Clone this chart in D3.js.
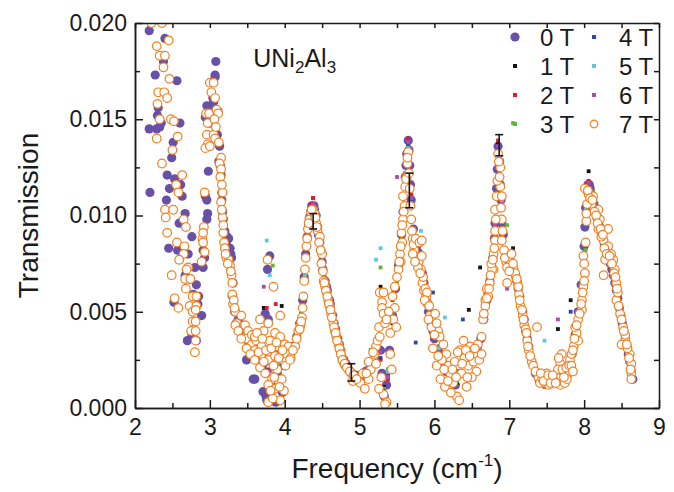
<!DOCTYPE html>
<html>
<head>
<meta charset="utf-8">
<script src="https://cdnjs.cloudflare.com/ajax/libs/d3/7.8.5/d3.min.js"></script>
<style>
  body { margin: 0; background: #fff; }
  text { font-family: 'Liberation Sans', Arial, sans-serif; fill: #1a1a1a; }
  .axis path, .axis line { stroke: #1a1a1a; stroke-width: 1.5; }
</style>
</head>
<body>
<div id="chart"></div>
<script>
// transmission values are in units of 1e-3 (axis shows 0.000 ... 0.020)

// 0 T, [frequency cm-1, transmission]
const points0T = [
  [2.19,19.6],[2.40,19.2],[2.38,18.0],[2.27,17.3],[2.56,17.0],[2.31,15.6],[2.29,14.5],[2.19,14.5],
  [2.33,14.6],[2.60,14.8],[2.51,13.8],[2.49,13.0],[2.43,12.1],[2.20,11.2],[2.53,11.9],[2.61,11.6],
  [2.42,10.8],[2.67,10.1],[2.59,9.6],[2.45,8.3],[2.57,8.2],[2.76,8.9],[2.71,8.0],[2.80,7.3],
  [2.67,6.9],[2.73,6.7],[2.52,5.5],[2.82,6.4],[2.85,5.8],[2.89,4.8],[2.70,3.5],[2.82,3.5],
  [2.76,3.8],[2.80,5.2],[2.84,5.4],[2.30,15.2],[2.35,14.8],[2.46,11.4],[2.63,11.0],[2.78,5.9],
  [2.96,9.8],[2.97,10.1],[2.96,10.8],[2.94,11.0],[2.98,12.3],[2.91,8.2],[2.93,7.8],[2.91,7.3],
  [2.96,15.7],[3.02,15.5],[2.99,14.9],[3.07,17.3],[3.08,18.0],[3.04,16.1],[3.11,15.4],[3.10,14.2],
  [3.13,13.6],[3.15,12.1],[3.16,11.2],[3.16,10.8],[3.17,10.2],[3.20,9.2],[3.25,8.8],[3.27,8.3],
  [3.29,7.8],[3.30,5.8],[3.33,5.0],[3.38,4.6],[3.45,4.3],[3.49,2.5],[3.58,1.5],[3.71,0.85],
  [3.05,15.9],[3.01,15.0],[3.12,12.8],[3.22,8.6],[3.31,6.5],[3.35,4.4],[3.40,4.0],[3.52,3.4],
  [3.55,2.9],[3.63,2.6],[2.94,15.1],[3.00,14.8],[3.07,17.2],
  [3.14,12.6],[3.18,9.8],[3.23,8.9],[3.28,8.0],
  [3.80,7.9],[3.77,7.2],[3.78,4.6],[3.60,1.5],[3.74,4.9],[3.66,3.2],[3.70,2.2],[3.76,0.4],
  [3.82,1.2],[3.86,3.0],[3.90,1.8],[3.95,2.6],[4.00,2.2],[4.04,3.0],[4.08,2.8],[3.88,0.3],
  [3.97,0.8],[3.75,0.6],
  [4.12,3.2],[4.16,3.7],[4.20,4.4],[4.24,5.6],[4.26,6.8],[4.28,8.0],[4.30,8.9],[4.33,9.9],
  [4.36,10.5],[4.39,10.5],[4.42,10.0],[4.45,9.0],[4.48,8.2],[4.51,7.2],[4.54,6.6],[4.57,6.1],
  [4.61,5.4],[4.64,4.8],[4.68,4.1],[4.71,3.6],[4.75,3.0],[4.79,2.5],[4.84,2.1],[4.90,1.8],
  [4.96,1.7],[5.02,1.6],[5.08,1.9],
  [4.32,9.5],[4.40,10.3],[4.44,9.4],[4.47,8.6],[4.50,7.6],[4.56,6.3],[4.60,5.6],[4.66,4.4],
  [4.73,3.3],[4.82,2.3],
  [5.14,2.1],[5.20,2.6],[5.24,3.1],[5.28,3.0],[5.30,1.8],[5.33,0.6],[5.36,1.2],[5.40,3.0],
  [5.44,4.8],[5.48,6.2],
  [5.52,7.4],[5.55,8.4],[5.58,10.2],[5.61,12.0],[5.63,13.2],[5.65,13.9],[5.67,12.6],[5.69,10.8],
  [5.72,9.3],[5.76,8.4],[5.80,7.8],[5.84,7.0],[5.88,6.0],[5.92,5.0],[5.96,4.3],[6.00,3.6],
  [6.05,3.0],[6.10,2.4],[6.16,1.9],[6.22,1.4],[6.28,1.2],[6.34,1.8],[6.40,2.4],[6.46,2.6],
  [6.52,2.6],[6.57,3.0],[6.62,3.6],
  [5.56,9.0],[5.62,12.6],[5.66,13.4],[5.68,11.6],[5.74,8.8],[5.78,8.1],[5.86,6.5],[5.90,5.5],
  [5.98,4.0],
  [6.66,4.6],[6.70,5.6],[6.74,6.6],[6.78,7.8],[6.81,9.6],[6.83,11.4],[6.85,13.6],[6.87,12.8],
  [6.89,10.8],[6.92,9.0],[6.95,8.0],[7.00,7.6],[7.05,7.3],[7.10,6.6],[7.14,5.8],[7.18,5.0],
  [7.22,4.0],[7.26,3.2],[7.30,2.4],[7.35,1.8],[7.40,1.4],[7.46,1.3],[7.52,1.4],[7.58,1.5],
  [7.64,1.8],[7.70,2.2],[7.75,1.6],[7.80,2.0],
  [6.80,8.8],[6.84,12.4],[6.88,11.6],[6.90,9.6],[6.98,7.8],[7.03,7.5],[7.08,6.9],[7.12,6.2],
  [7.20,4.6],[7.24,3.6],
  [7.84,2.8],[7.88,3.8],[7.92,5.0],[7.96,6.4],[8.00,8.4],[8.02,10.4],[8.05,11.6],[8.08,11.4],
  [8.11,11.0],[8.15,10.2],[8.19,9.6],[8.23,9.1],[8.27,8.5],[8.31,8.0],[8.35,7.5],[8.39,6.9],
  [8.43,6.1],[8.47,5.2],[8.51,4.4],[8.55,3.6],[8.59,2.8],[8.63,1.9],[8.65,1.5],
  [8.01,9.4],[8.04,11.3],[8.07,11.6],[8.13,10.6],[8.17,9.9],[8.21,9.4],[8.25,8.8],[8.29,8.3],
  [8.33,7.8],[8.37,7.2],[8.41,6.5],[8.45,5.7],[8.49,4.8],[8.53,4.0],[8.57,3.2],[8.61,2.4]
]

// 7 T, [frequency cm-1, transmission]
const points7T = [
  [2.22,20.0],[2.36,20.0],[2.45,19.1],[2.29,18.8],[2.33,18.3],[2.40,18.3],[2.38,17.7],[2.46,17.1],
  [2.31,16.4],[2.39,16.4],[2.43,16.1],[2.30,15.8],[2.33,15.0],[2.48,15.0],[2.29,14.0],[2.57,14.1],
  [2.50,13.4],[2.36,12.7],[2.63,12.1],[2.55,11.6],[2.58,11.2],[2.40,10.3],[2.51,10.3],[2.41,9.9],
  [2.65,9.8],[2.43,9.1],[2.68,9.4],[2.56,8.6],[2.66,8.4],[2.65,8.0],[2.59,7.7],[2.71,7.3],
  [2.69,7.2],[2.49,6.9],[2.67,6.7],[2.74,6.7],[2.68,6.2],[2.53,5.7],[2.58,5.2],[2.77,5.8],
  [2.82,5.8],[2.73,5.3],[2.82,5.3],[2.77,5.0],[2.81,5.1],[2.77,4.5],[2.81,4.5],[2.75,4.0],
  [2.81,4.0],[2.81,3.5],[2.80,2.9],[2.52,14.9],
  [2.93,11.2],[2.92,9.4],[2.90,8.8],[2.91,8.6],[2.93,8.1],[2.89,7.6],[2.95,15.3],[2.99,15.3],
  [2.97,14.8],[2.96,14.2],[2.97,13.7],[3.00,16.9],[3.05,16.9],[3.02,16.4],[3.07,16.1],[3.09,15.5],
  [3.11,15.3],[3.05,14.2],[3.07,14.0],[3.15,13.0],[3.13,12.7],[3.15,12.4],[3.17,11.2],[3.15,10.7],
  [3.17,9.9],[3.18,9.1],[3.19,8.6],[3.20,8.3],[3.22,7.8],[3.25,7.7],[3.27,7.4],[3.29,6.9],
  [3.30,6.5],[3.30,5.9],[3.31,5.4],[3.34,5.0],[3.36,4.4],[3.42,4.8],[3.47,4.3],[3.51,4.0],
  [3.49,3.6],[3.56,3.3],[3.60,3.0],[3.69,2.8],[2.94,13.5],[3.00,13.6],[2.91,9.1],
  [3.06,15.0],[3.08,14.6],[3.12,13.8],[3.14,12.0],[3.16,11.6],[3.16,10.3],[3.18,9.5],[3.21,8.0],
  [3.24,7.5],[3.28,7.1],[3.32,5.6],[3.33,5.2],
  [3.34,4.3],[3.38,4.0],[3.42,3.6],[3.49,3.1],[3.54,2.8],[3.60,2.5],[3.56,3.8],[3.62,3.5],[3.67,2.1],
  [3.67,4.6],[3.78,4.4],[3.60,3.7],[3.69,3.2],[3.80,3.5],[3.87,3.9],[3.94,3.7],[3.91,3.2],
  [4.00,3.3],[4.05,3.2],[3.78,2.5],[3.87,2.7],[3.74,1.8],[3.98,2.5],[3.83,1.5],[3.96,1.5],
  [3.78,1.2],[3.94,0.4],[3.87,1.0],[4.03,2.8],[3.77,7.7],[3.85,6.3],[3.94,4.8],[3.78,0.3],
  [3.72,2.4],[3.65,2.9],[3.90,2.0],[4.08,2.6],[3.84,0.5],[3.99,0.9],[3.72,4.0],[3.63,3.9],
  [3.70,3.6],[3.75,3.0],[3.82,3.1],[3.85,2.2],[3.89,3.4],[3.92,2.6],[3.97,3.0],[4.01,2.2],
  [3.81,0.9],[3.86,1.6],[3.93,1.1],
  [4.07,2.5],[4.14,3.2],[4.18,4.0],[4.23,4.7],[4.25,5.8],[4.27,7.2],[4.29,8.4],[4.31,9.3],
  [4.33,9.8],[4.35,10.2],[4.38,10.3],[4.40,10.1],[4.42,9.6],[4.44,9.2],[4.47,8.9],[4.49,7.5],
  [4.50,8.0],[4.52,6.6],[4.54,6.3],[4.56,6.0],[4.58,5.6],[4.60,5.3],[4.62,4.9],[4.65,4.4],
  [4.67,4.0],[4.69,3.7],[4.72,3.3],[4.74,3.0],[4.76,2.7],[4.78,2.4],[4.81,2.2],[4.85,2.0],
  [4.89,1.8],[4.94,1.6],[4.98,1.5],[5.01,1.3],[5.07,1.0],[5.12,1.5],[5.04,1.8],[4.91,1.4],
  [4.26,6.6],[4.28,7.8],[4.24,5.2],[4.21,4.3],[4.16,3.6],[4.11,3.0],
  [4.20,4.1],[4.22,4.5],[4.30,8.8],[4.32,9.6],[4.36,10.3],[4.41,9.9],[4.43,9.4],[4.46,8.6],
  [4.48,8.2],[4.51,7.1],[4.53,6.5],[4.55,6.1],[4.57,5.8],[4.59,5.4],[4.61,5.1],[4.63,4.7],
  [4.66,4.2],[4.68,3.9],[4.70,3.5],[4.73,3.1],[4.75,2.8],[4.77,2.5],[4.80,2.3],[4.83,2.1],
  [4.87,1.9],[4.92,1.7],[4.96,1.5],
  [5.15,2.0],[5.18,2.5],[5.20,2.8],[5.22,3.2],[5.24,3.5],[5.26,4.2],[5.27,6.0],[5.30,5.5],
  [5.32,6.0],[5.30,5.2],[5.32,4.9],[5.34,4.4],[5.27,3.7],[5.18,2.9],[5.29,1.6],[5.32,0.7],
  [5.36,0.3],[5.41,3.9],[5.41,2.8],[5.43,2.0],[5.45,4.6],[5.47,5.2],[5.49,4.2],[5.12,2.4],
  [5.09,1.8],[5.22,2.3],[5.26,1.0],[5.34,0.2],
  [5.47,6.3],[5.52,7.2],[5.54,8.0],[5.56,9.1],[5.58,9.8],[5.58,11.0],[5.61,11.5],[5.64,12.7],
  [5.65,13.3],[5.63,12.0],[5.60,10.5],[5.57,8.6],[5.55,7.6],[5.50,6.8],[5.44,5.8],[5.39,5.0],
  [5.36,4.6],
  [5.53,7.6],[5.55,8.4],[5.57,9.5],[5.59,10.2],[5.62,11.9],[5.64,13.0],[5.67,11.4],[5.69,9.8],
  [5.71,8.8],[5.73,8.2],[5.77,7.8],[5.79,7.6],[5.82,7.2],[5.84,6.5],[5.86,6.1],[5.89,5.8],
  [5.91,5.4],[5.94,4.8],[5.97,4.5],[6.05,4.0],
  [5.66,12.2],[5.68,10.5],[5.70,9.2],[5.72,8.5],[5.75,8.8],[5.80,8.6],[5.83,8.7],[5.83,7.9],
  [5.78,7.3],[5.85,6.8],[5.88,6.2],[5.90,6.0],[5.87,5.6],[5.93,5.3],[5.96,4.2],[6.01,4.9],
  [6.03,4.4],[6.07,3.7],[5.98,3.1],[6.16,2.8],[6.03,2.2],[6.21,1.8],[6.25,1.3],[6.14,1.1],
  [6.30,0.6],[6.34,3.0],[6.39,3.5],[6.48,3.2],[6.56,2.8],[6.45,2.2],[6.56,1.9],[6.43,1.1],
  [6.63,3.7],[6.65,4.6],[6.68,5.6],[6.79,7.2],[6.10,2.5],[6.12,3.3],[6.19,2.2],[6.27,2.4],
  [6.36,1.8],[6.40,2.6],[6.52,2.4],[6.58,3.3],[6.08,1.5],[6.22,0.8],[6.33,0.4],[5.71,8.0],
  [5.74,7.6],[5.81,7.0],[5.92,4.6],[6.00,3.8],
  [6.05,2.7],[6.13,2.0],[6.18,1.4],[6.24,2.0],[6.29,1.6],[6.31,2.9],[6.37,2.3],[6.42,3.0],
  [6.47,2.7],[6.50,1.6],[6.54,3.1],[6.60,2.5],[6.44,1.6],
  [6.63,2.8],[6.68,5.3],[6.72,5.8],[6.74,6.5],[6.77,7.2],[6.79,8.0],[6.81,8.7],[6.81,9.2],
  [6.81,10.3],[6.83,11.0],[6.88,11.5],[6.88,12.5],[6.85,13.2],[6.90,11.0],[6.90,9.8],[6.90,8.7],
  [6.70,6.2],[6.66,4.9],
  [6.70,5.7],[6.73,6.2],[6.75,6.9],[6.76,7.5],[6.78,7.7],[6.80,8.3],[6.82,9.8],[6.84,11.8],
  [6.86,12.8],[6.87,12.0],[6.89,10.4],[6.91,9.2],[6.93,8.2],[6.96,7.6],[6.99,7.7],[7.02,7.6],
  [7.06,7.2],[7.09,6.8],[7.11,6.5],[7.13,5.9],[7.15,5.3],[7.18,4.8],[7.20,4.3],[7.22,4.1],
  [7.24,3.5],[7.26,3.0],[7.30,2.4],
  [6.94,7.8],[7.03,8.0],[6.97,7.3],[7.05,7.5],[7.08,7.0],[6.97,6.5],[7.12,6.3],[7.14,5.6],
  [7.17,5.1],[7.19,4.6],[7.23,3.9],[7.25,3.2],[7.28,2.7],[7.32,2.2],[7.37,4.2],[7.39,1.6],
  [7.41,1.3],[7.50,1.8],[7.48,1.3],[7.57,1.5],[7.63,1.6],[7.68,2.3],[7.70,2.8],[7.68,1.2],
  [7.79,1.8],[7.81,2.5],[7.86,3.2],[7.90,3.9],[7.92,4.6],[7.00,7.1],[7.10,6.7],[7.44,1.5],
  [7.53,1.2],[7.60,1.4],[7.65,2.0],[7.74,1.3],[7.77,1.5],[7.35,1.9],[7.71,2.0],[7.83,2.8],
  [7.42,1.8],[7.46,1.4],[7.52,1.7],[7.55,1.3],[7.58,1.7],[7.62,1.3],[7.66,2.6],[7.73,1.6],
  [7.76,2.1],[7.80,2.2],
  [7.83,2.2],[7.85,1.9],[7.85,3.0],[7.88,4.2],[7.92,3.5],[7.97,5.1],[7.97,5.6],[7.99,6.3],
  [8.01,7.0],[7.99,7.9],[8.03,9.7],[8.03,10.1],[8.01,11.4],[8.06,11.1],[8.12,11.0],[8.10,10.6],
  [8.19,10.3],[8.21,9.8],[8.19,9.3],[8.32,9.3],[8.26,8.7],[8.32,8.4],[8.28,7.7],[8.39,7.7],
  [8.26,6.9],[8.41,7.2],[8.43,6.5],[8.43,5.6],[8.48,4.9],[8.52,4.2],[8.55,3.5],[8.61,2.8],
  [8.63,2.3],[8.63,1.8],[8.63,1.5],[8.50,3.3],[8.55,3.8],[8.14,10.2],[8.23,8.9],[8.36,8.0],
  [8.45,6.0],[8.58,3.1],
  [7.87,3.6],[7.90,4.3],[7.94,4.9],[7.96,5.4],[7.98,6.0],[8.00,6.6],[8.00,7.5],[8.02,8.6],
  [8.04,10.6],[8.05,11.3],[8.08,10.9],[8.11,10.8],[8.16,10.0],[8.18,9.6],[8.22,9.3],[8.25,9.0],
  [8.27,8.3],[8.30,8.0],[8.34,7.9],[8.37,7.5],[8.40,7.0],[8.42,6.8],[8.44,6.2],[8.46,5.3],
  [8.50,4.6],[8.53,4.0],[8.57,3.3],[8.60,2.6],[8.62,2.0]
]

// 1 T ... 6 T share one frequency grid
const freqGrid = [
  3.72,3.76,3.80,3.84,3.88,3.92,3.96,4.00,4.05,4.10,4.16,4.22,4.27,4.31,4.35,4.38,
  4.42,4.47,4.53,4.60,4.68,4.76,4.85,4.95,5.05,5.15,5.22,5.28,5.33,5.38,5.44,5.50,
  5.56,5.61,5.65,5.69,5.75,5.82,5.90,5.98,6.06,6.14,6.22,6.30,6.38,6.46,6.54,6.61,
  6.68,6.75,6.81,6.85,6.90,6.97,7.05,7.13,7.21,7.29,7.38,7.47,7.56,7.65,7.74,7.82,
  7.89,7.96,8.02,8.06,8.12,8.20,8.29,8.38,8.47,8.56,8.63
]
const trans1T = [
  5.2,2.6,1.5,2.8,3.3,2.2,5.3,3.1,2.7,3.3,3.9,4.9,7.0,9.2,10.4,10.9,
  10.1,8.8,6.8,5.5,4.2,3.0,2.2,1.8,1.8,3.0,2.5,6.3,1.1,2.0,4.4,6.6,
  8.9,12.0,13.7,11.0,8.9,7.6,5.8,4.3,3.2,2.4,1.6,1.3,2.7,5.1,2.4,7.3,
  5.4,7.0,9.8,13.8,10.9,8.0,8.3,6.2,4.5,2.8,1.8,1.5,1.7,4.1,1.8,5.6,
  4.0,6.3,10.4,12.3,11.2,9.8,8.5,7.4,5.4,3.6,1.5
]
const trans2T = [
  3.1,5.2,2.0,2.2,5.4,2.9,2.1,2.6,3.2,2.8,3.5,4.5,6.6,9.3,10.6,10.9,
  10.3,8.4,6.4,5.1,3.9,2.7,1.9,1.5,1.4,2.3,3.0,2.5,0.5,1.5,5.6,7.0,
  8.8,12.2,14.0,11.1,8.4,7.2,5.4,3.8,2.8,1.8,1.2,1.9,2.2,2.9,2.8,3.2,
  6.0,6.6,9.2,13.9,10.4,7.6,7.1,5.8,4.1,2.4,1.4,1.1,1.3,1.7,1.4,2.2,
  3.6,5.8,10.0,11.8,10.8,9.4,8.1,7.0,5.0,3.2,1.6
]
const trans3T = [
  2.5,2.4,1.2,7.4,2.7,2.3,2.6,3.2,2.8,3.2,3.9,4.9,7.0,8.8,10.0,10.3,
  9.8,8.8,6.8,5.5,4.2,3.0,2.2,1.4,1.8,2.0,2.6,7.3,1.0,2.0,4.8,6.6,
  8.4,11.6,13.6,10.6,8.8,7.6,5.8,4.2,3.2,2.2,1.6,1.4,2.6,2.4,2.4,3.6,
  5.0,7.0,9.7,13.4,10.8,9.5,14.8,6.2,4.5,2.8,1.8,1.5,1.7,2.1,1.8,2.6,
  4.0,6.2,8.2,11.4,11.2,9.8,8.5,7.4,5.4,3.6,2.0
]
const trans4T = [
  2.6,2.0,1.6,2.6,2.8,2.8,2.2,2.7,3.1,2.9,3.6,4.6,6.7,9.1,10.3,10.4,
  9.9,8.5,6.5,5.2,3.9,2.7,1.9,1.7,1.5,2.2,2.9,2.6,0.6,1.7,4.5,6.9,
  8.7,11.9,13.7,10.7,3.4,7.3,5.5,6.0,2.9,1.9,1.3,1.7,4.6,2.7,2.7,3.3,
  5.1,6.7,9.4,13.5,10.5,7.7,7.2,5.9,4.2,2.5,1.5,1.2,1.4,1.8,1.5,5.0,
  3.7,5.9,10.1,11.5,10.9,9.5,8.2,7.1,5.1,3.3,1.7
]
const trans5T = [
  2.9,8.7,6.9,2.0,3.2,2.4,2.8,3.0,2.9,3.1,3.8,4.8,6.9,8.9,10.1,10.4,
  10.1,8.7,6.7,5.4,4.1,2.9,2.1,1.5,1.7,2.0,7.7,8.3,0.3,1.9,4.7,6.7,
  8.5,11.7,13.5,10.9,8.7,9.2,5.7,4.1,3.1,4.7,1.5,1.5,2.5,2.5,2.5,3.5,
  5.3,6.9,9.6,13.3,10.7,7.9,7.4,6.1,4.4,2.7,1.7,3.5,1.6,2.0,1.7,2.5,
  3.9,6.1,10.3,11.3,11.1,9.7,8.4,7.3,5.3,3.5,1.9
]
const trans6T = [
  6.3,2.3,1.9,2.3,2.9,2.5,2.5,2.8,3.0,2.9,3.6,4.6,6.6,9.0,10.1,10.6,
  9.9,8.5,6.5,5.2,3.9,2.7,1.9,1.6,1.6,2.1,2.7,2.9,0.9,1.6,4.5,12.0,
  9.8,11.9,13.8,10.9,8.5,7.3,5.5,3.9,2.9,2.0,1.3,1.6,2.3,2.6,2.6,3.3,
  5.2,6.8,9.5,13.6,10.6,6.2,7.3,6.0,4.3,2.6,1.6,1.3,1.5,4.6,1.6,2.4,
  3.8,7.9,10.2,11.7,11.0,9.6,8.3,7.2,5.2,3.4,1.8
]

// error bars
const errFreq = [4.38, 4.89, 5.665, 6.865]
const errMid = [9.7, 1.85, 11.3, 13.65]
const errHalf = [0.4, 0.45, 0.9, 0.55]

const legendLabels = ['0 T', '1 T', '2 T', '3 T', '4 T', '5 T', '6 T', '7 T']
const colors = ['#6650a8', '#141414', '#e8192c', '#5cb83a', '#2a4aa6', '#5fc8e0', '#b04aa8', '#f47f20']

const xMajor = [2, 3, 4, 5, 6, 7, 8, 9]
const xMinor = [2.5, 3.5, 4.5, 5.5, 6.5, 7.5, 8.5]
const yMajor = [0, 5, 10, 15, 20]
const yMinor = [2.5, 7.5, 12.5, 17.5]

var margin = { top: 23, right: 15, bottom: 84, left: 135 }
let width = 674 - margin.left - margin.right
let height = 492 - margin.top - margin.bottom

let svg = d3
  .select('#chart')
  .append('svg')
  .attr('width', 674)
  .attr('height', 492)
  .append('g')
  .attr('transform', 'translate(' + margin.left + ',' + margin.top + ')')

const xPositionScale = d3.scaleLinear().domain([2, 9]).range([0, width])
const yPositionScale = d3.scaleLinear().domain([0, 20]).range([height, 0])

svg
  .append('clipPath')
  .attr('id', 'plot-clip')
  .append('rect')
  .attr('width', width)
  .attr('height', height)

let dots = svg.append('g').attr('clip-path', 'url(#plot-clip)')

// 0 T filled circles at the bottom
dots
  .selectAll('.dot0')
  .data(points0T)
  .enter()
  .append('circle')
  .attr('class', 'dot0')
  .attr('cx', d => xPositionScale(d[0]))
  .attr('cy', d => yPositionScale(d[1]))
  .attr('r', 4.6)
  .attr('fill', colors[0])

// 1 T .. 6 T small squares
const fieldSeries = [trans1T, trans2T, trans3T, trans4T, trans5T, trans6T]
fieldSeries.forEach((values, k) => {
  dots
    .selectAll('.sq' + k)
    .data(values)
    .enter()
    .append('rect')
    .attr('class', 'sq' + k)
    .attr('x', (d, i) => xPositionScale(freqGrid[i]) - 1.9)
    .attr('y', d => yPositionScale(d) - 1.9)
    .attr('width', 3.8)
    .attr('height', 3.8)
    .attr('fill', colors[k + 1])
})

// 7 T open circles on top
dots
  .selectAll('.dot7')
  .data(points7T)
  .enter()
  .append('circle')
  .attr('class', 'dot7')
  .attr('cx', d => xPositionScale(d[0]))
  .attr('cy', d => yPositionScale(d[1]))
  .attr('r', 4.3)
  .attr('fill', 'white')
  .attr('stroke', colors[7])
  .attr('stroke-width', 1.2)

// error bars
let errors = svg
  .selectAll('.err')
  .data(errFreq)
  .enter()
  .append('g')
  .attr('class', 'err')
  .attr('stroke', '#1a1a1a')
  .attr('stroke-width', 1.6)
errors
  .append('line')
  .attr('x1', d => xPositionScale(d))
  .attr('x2', d => xPositionScale(d))
  .attr('y1', (d, i) => yPositionScale(errMid[i] - errHalf[i]))
  .attr('y2', (d, i) => yPositionScale(errMid[i] + errHalf[i]))
errors
  .append('line')
  .attr('x1', d => xPositionScale(d) - 4)
  .attr('x2', d => xPositionScale(d) + 4)
  .attr('y1', (d, i) => yPositionScale(errMid[i] - errHalf[i]))
  .attr('y2', (d, i) => yPositionScale(errMid[i] - errHalf[i]))
errors
  .append('line')
  .attr('x1', d => xPositionScale(d) - 4)
  .attr('x2', d => xPositionScale(d) + 4)
  .attr('y1', (d, i) => yPositionScale(errMid[i] + errHalf[i]))
  .attr('y2', (d, i) => yPositionScale(errMid[i] + errHalf[i]))

// axes, ticks point inwards
svg
  .append('g')
  .attr('class', 'axis x-axis')
  .attr('transform', 'translate(0,' + height + ')')
  .call(
    d3
      .axisBottom(xPositionScale)
      .tickValues(xMajor)
      .tickSizeInner(-8)
      .tickSizeOuter(0)
      .tickPadding(11)
      .tickFormat(d3.format('d'))
  )
svg
  .append('g')
  .attr('class', 'axis x-minor')
  .attr('transform', 'translate(0,' + height + ')')
  .call(d3.axisBottom(xPositionScale).tickValues(xMinor).tickSizeInner(-5).tickSizeOuter(0).tickFormat(''))
svg
  .append('g')
  .attr('class', 'axis x-top')
  .call(
    d3
      .axisTop(xPositionScale)
      .tickValues(xMajor.concat(xMinor))
      .tickSizeInner(-5)
      .tickSizeOuter(0)
      .tickFormat('')
  )

svg
  .append('g')
  .attr('class', 'axis y-axis')
  .call(
    d3
      .axisLeft(yPositionScale)
      .tickValues(yMajor)
      .tickSizeInner(-8)
      .tickSizeOuter(0)
      .tickPadding(8)
      .tickFormat(d => (d / 1000).toFixed(3))
  )
svg
  .append('g')
  .attr('class', 'axis y-minor')
  .call(d3.axisLeft(yPositionScale).tickValues(yMinor).tickSizeInner(-5).tickSizeOuter(0).tickFormat(''))
svg
  .append('g')
  .attr('class', 'axis y-right')
  .attr('transform', 'translate(' + width + ',0)')
  .call(
    d3
      .axisRight(yPositionScale)
      .tickValues(yMajor.concat(yMinor))
      .tickSizeInner(-5)
      .tickSizeOuter(0)
      .tickFormat('')
  )

svg.selectAll('.axis text').attr('font-size', 23).attr('fill', '#1a1a1a')

// axis titles
let xTitle = svg
  .append('text')
  .attr('x', width / 2)
  .attr('y', height + 70)
  .attr('text-anchor', 'middle')
  .attr('font-size', 28)
xTitle.append('tspan').text('Frequency (cm')
xTitle.append('tspan').attr('font-size', 17).attr('dy', -12).text('-1')
xTitle.append('tspan').attr('dy', 12).text(')')

svg
  .append('text')
  .attr('transform', 'translate(' + (38 - margin.left) + ',' + height / 2 + ') rotate(-90)')
  .attr('text-anchor', 'middle')
  .attr('font-size', 28)
  .text('Transmission')

// sample label
let sample = svg
  .append('text')
  .attr('x', xPositionScale(3.58))
  .attr('y', 44)
  .attr('font-size', 25)
sample.append('tspan').text('UNi')
sample.append('tspan').attr('font-size', 17).attr('dy', 6).text('2')
sample.append('tspan').attr('dy', -6).text('Al')
sample.append('tspan').attr('font-size', 17).attr('dy', 6).text('3')

// legend, two columns
let legend = svg.append('g').attr('class', 'legend')
legend
  .selectAll('.legend-entry')
  .data(legendLabels)
  .enter()
  .append('g')
  .attr('class', 'legend-entry')
  .attr('transform', (d, i) => `translate(${i < 4 ? 380 : 459},${14 + (i % 4) * 29})`)
  .each(function(d, i) {
    let g = d3.select(this)
    if (i === 0) {
      g.append('circle').attr('r', 4.6).attr('fill', colors[0])
    } else if (i === 7) {
      g.append('circle')
        .attr('r', 3.8)
        .attr('fill', 'white')
        .attr('stroke', colors[7])
        .attr('stroke-width', 1.2)
    } else {
      g.append('rect')
        .attr('x', -2)
        .attr('y', -2)
        .attr('width', 4)
        .attr('height', 4)
        .attr('fill', colors[i])
    }
    g.append('text')
      .attr('x', 25)
      .attr('y', 8.5)
      .attr('font-size', 24)
      .text(d)
  })
</script>
</body>
</html>
